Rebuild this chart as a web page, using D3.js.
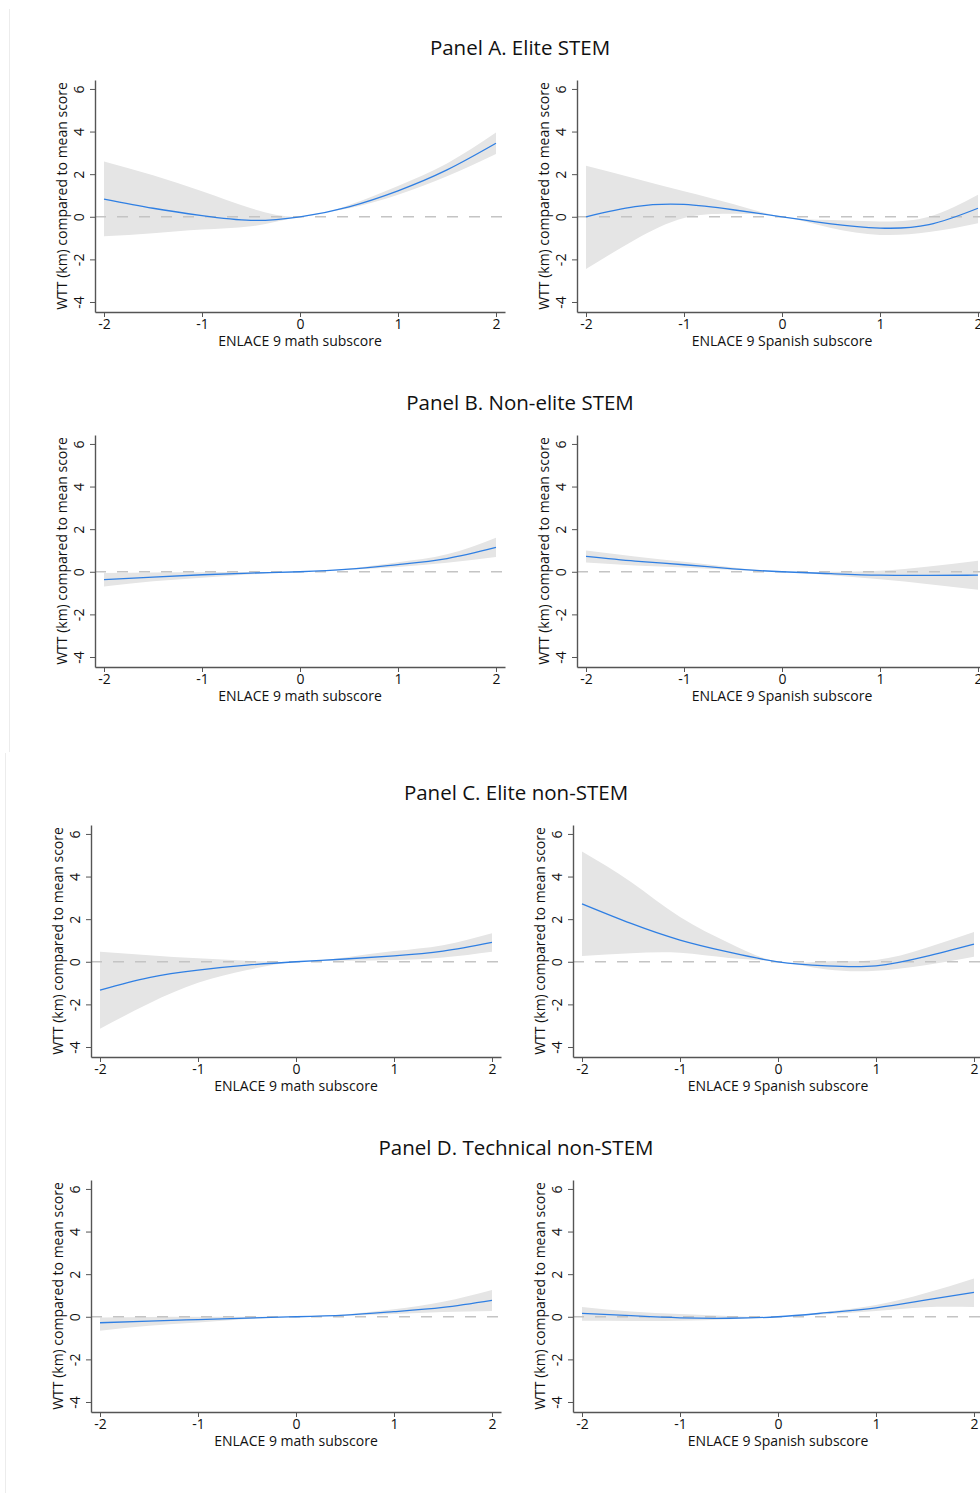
<!DOCTYPE html>
<html>
<head>
<meta charset="utf-8">
<script src="https://cdn.jsdelivr.net/npm/d3@7"></script>
<style>
  body { margin: 0; background: #fff; }
  svg { display: block; font-family: "Open Sans", sans-serif; }
</style>
</head>
<body>
<svg id="chart" width="980" height="1493"></svg>
<script>
// x grid the curves were read at
const xs = [-2, -1.5, -1, -0.5, 0, 0.5, 1, 1.5, 2];

// Panel A. Elite STEM
const aMathFit = [0.83, 0.4, 0.05, -0.17, 0, 0.47, 1.22, 2.2, 3.45];
const aMathHi  = [2.6, 1.95, 1.2, 0.4, 0, 0.55, 1.45, 2.5, 3.95];
const aMathLo  = [-0.92, -0.77, -0.6, -0.45, 0, 0.4, 1.03, 1.9, 2.95];
const aSpanFit = [0, 0.48, 0.58, 0.33, 0, -0.33, -0.53, -0.37, 0.4];
const aSpanHi  = [2.4, 1.8, 1.2, 0.6, 0, -0.15, -0.22, 0.0, 1.03];
const aSpanLo  = [-2.45, -1.08, -0.06, 0.14, 0, -0.53, -0.85, -0.72, -0.3];

// Panel B. Non-elite STEM
const bMathFit = [-0.37, -0.25, -0.14, -0.06, 0, 0.12, 0.34, 0.62, 1.14];
const bMathHi  = [-0.06, -0.03, -0.02, -0.01, 0, 0.15, 0.45, 0.82, 1.6];
const bMathLo  = [-0.69, -0.45, -0.28, -0.12, 0, 0.09, 0.22, 0.42, 0.69];
const bSpanFit = [0.72, 0.5, 0.33, 0.14, 0, -0.09, -0.16, -0.17, -0.16];
const bSpanHi  = [1.0, 0.72, 0.47, 0.2, 0, 0.0, 0.05, 0.25, 0.52];
const bSpanLo  = [0.44, 0.3, 0.2, 0.08, 0, -0.16, -0.35, -0.58, -0.84];

// Panel C. Elite non-STEM
const cMathFit = [-1.33, -0.74, -0.39, -0.16, 0, 0.13, 0.28, 0.5, 0.91];
const cMathHi  = [0.47, 0.31, 0.16, 0.05, 0, 0.2, 0.5, 0.78, 1.34];
const cMathLo  = [-3.14, -1.96, -0.99, -0.39, 0, 0.05, 0.08, 0.2, 0.47];
const cSpanFit = [2.72, 1.8, 1.02, 0.45, 0, -0.19, -0.19, 0.24, 0.83];
const cSpanHi  = [5.18, 3.75, 2.1, 0.88, 0, 0.02, 0.08, 0.63, 1.4];
const cSpanLo  = [0.27, 0.4, 0.42, 0.18, 0, -0.36, -0.42, -0.16, 0.24];

// Panel D. Technical non-STEM
const dMathFit = [-0.28, -0.2, -0.13, -0.06, 0, 0.08, 0.24, 0.44, 0.77];
const dMathHi  = [-0.03, -0.01, 0.0, 0.0, 0, 0.11, 0.35, 0.7, 1.26];
const dMathLo  = [-0.66, -0.42, -0.27, -0.11, 0, 0.05, 0.13, 0.22, 0.27];
const dSpanFit = [0.16, 0.05, -0.05, -0.07, 0, 0.19, 0.42, 0.78, 1.15];
const dSpanHi  = [0.46, 0.25, 0.13, 0.04, 0, 0.24, 0.55, 1.1, 1.8];
const dSpanLo  = [-0.19, -0.2, -0.19, -0.12, 0, 0.12, 0.27, 0.45, 0.46];

const panelTitles = ["Panel A. Elite STEM", "Panel B. Non-elite STEM",
                     "Panel C. Elite non-STEM", "Panel D. Technical non-STEM"];
const xTitles = ["ENLACE 9 math subscore", "ENLACE 9 Spanish subscore"];
const yTitle = "WTT (km) compared to mean score";
const xTicks = [-2, -1, 0, 1, 2];
const yTicks = [-4, -2, 0, 2, 4, 6];

const series = [
  [[aMathFit, aMathLo, aMathHi], [aSpanFit, aSpanLo, aSpanHi]],
  [[bMathFit, bMathLo, bMathHi], [bSpanFit, bSpanLo, bSpanHi]],
  [[cMathFit, cMathLo, cMathHi], [cSpanFit, cSpanLo, cSpanHi]],
  [[dMathFit, dMathLo, dMathHi], [dSpanFit, dSpanLo, dSpanHi]]
];

// layout: title centre/baseline, y axis top, left x of each plot's axis
const layout = [
  {cx: 520, ty: 55,   top: 80,   axes: [95, 577]},
  {cx: 520, ty: 410,  top: 435,  axes: [95, 577]},
  {cx: 516, ty: 800,  top: 825,  axes: [91, 573]},
  {cx: 516, ty: 1155, top: 1180, axes: [91, 573]}
];
const plotW = 410, plotH = 232;
const fmt = d => String(d);   // plain hyphen minus, no decimals

const svg = d3.select("#chart");

// faint page edges
svg.append("line").attr("x1", 9.5).attr("x2", 9.5).attr("y1", 9).attr("y2", 752)
   .attr("stroke", "#ececec");
svg.append("line").attr("x1", 5.5).attr("x2", 5.5).attr("y1", 753).attr("y2", 1493)
   .attr("stroke", "#ececec");

layout.forEach((L, r) => {
  svg.append("text")
     .attr("x", L.cx).attr("y", L.ty)
     .attr("text-anchor", "middle")
     .attr("font-size", 20.5).attr("fill", "#111")
     .text(panelTitles[r]);

  L.axes.forEach((ax, c) => {
    const [fit, lo, hi] = series[r][c];
    const x = d3.scaleLinear().domain([-2.092, 2.092]).range([ax, ax + plotW]);
    const y = d3.scaleLinear().domain([-4.47, 6.42]).range([L.top + plotH, L.top]);
    const g = svg.append("g");

    // confidence band
    const band = d3.area()
      .x((d, i) => x(xs[i]))
      .y0((d, i) => y(lo[i]))
      .y1((d, i) => y(hi[i]))
      .curve(d3.curveNatural);
    g.append("path").datum(xs).attr("d", band).attr("fill", "#e5e5e5");

    // reference line at zero
    g.append("line")
      .attr("x1", ax).attr("x2", ax + plotW)
      .attr("y1", y(0)).attr("y2", y(0))
      .attr("stroke", "#c4c4c4").attr("stroke-width", 1.3)
      .attr("stroke-dasharray", "11,11");

    // fitted line
    const line = d3.line()
      .x((d, i) => x(xs[i]))
      .y(d => y(d))
      .curve(d3.curveNatural);
    g.append("path").datum(fit).attr("d", line)
      .attr("fill", "none").attr("stroke", "#2f7fe3").attr("stroke-width", 1.3);

    // axes
    const yAx = g.append("g").attr("transform", `translate(${ax},0)`)
      .call(d3.axisLeft(y).tickValues(yTicks).tickFormat(fmt).tickSize(5).tickSizeOuter(0));
    yAx.selectAll("text")
      .attr("transform", "rotate(-90)")
      .attr("x", 0).attr("y", -11).attr("dy", 0)
      .attr("text-anchor", "middle");

    const xAx = g.append("g").attr("transform", `translate(0,${L.top + plotH})`)
      .call(d3.axisBottom(x).tickValues(xTicks).tickFormat(fmt).tickSize(5).tickSizeOuter(0));
    xAx.selectAll("text").attr("y", 7).attr("dy", "0.71em");

    [yAx, xAx].forEach(a => {
      a.select(".domain").attr("stroke", "#555").attr("stroke-width", 1.4);
      a.selectAll(".tick line").attr("stroke", "#555");
      a.selectAll("text").attr("font-size", 14).attr("fill", "#111")
        .attr("font-family", "Open Sans, sans-serif");
    });

    g.append("text")
      .attr("transform", `translate(${ax - 28},${L.top + plotH / 2}) rotate(-90)`)
      .attr("text-anchor", "middle").attr("font-size", 14).attr("fill", "#111")
      .text(yTitle);

    g.append("text")
      .attr("x", x(0)).attr("y", L.top + plotH + 34)
      .attr("text-anchor", "middle").attr("font-size", 14).attr("fill", "#111")
      .text(xTitles[c]);
  });
});
</script>
</body>
</html>
